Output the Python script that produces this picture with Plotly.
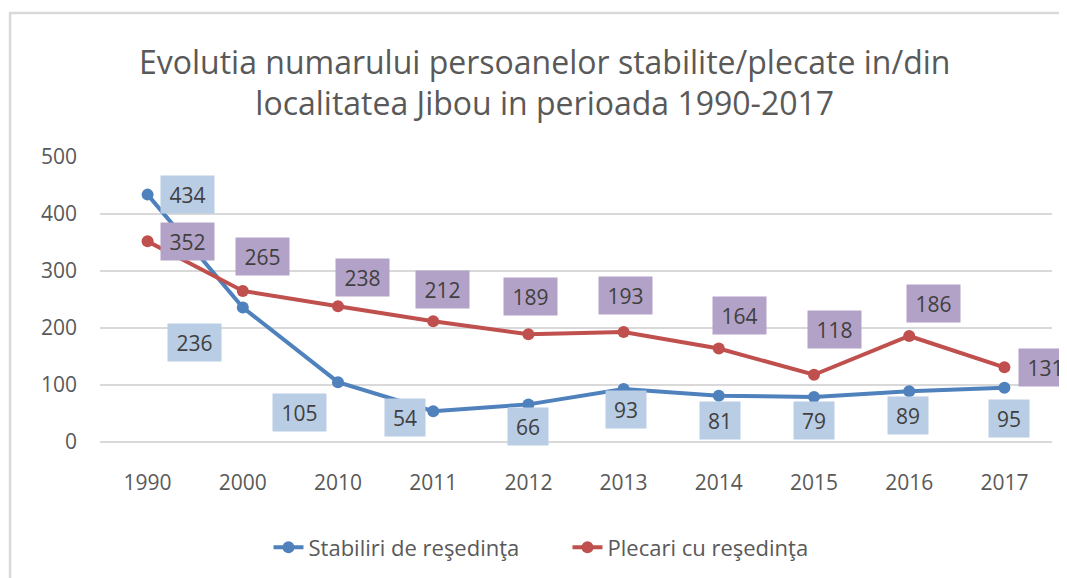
import plotly.graph_objects as go

years = ["1990", "2000", "2010", "2011", "2012", "2013", "2014", "2015", "2016", "2017"]
stabiliri = [434, 236, 105, 54, 66, 93, 81, 79, 89, 95]
plecari = [352, 265, 238, 212, 189, 193, 164, 118, 186, 131]

# label offsets in pixels (x, y up)
stab_off = [(40, 0), (-48, -35), (-39, -30), (-28, -6), (0, -22), (2, -21), (1, -25), (0, -24), (-1, -24), (5, -31)]
plec_off = [(40, 0), (20, 34), (24, 29), (9, 32), (2, 38), (2, 36), (21, 33), (20, 45), (24, 32), (41, 0)]

BLUE = "#4f81bd"
RED = "#c0504d"
FONT = "Open Sans"

fig = go.Figure()
fig.add_trace(go.Scatter(x=years, y=stabiliri, mode="lines+markers", name="Stabiliri de reşedinţa",
                         line=dict(color=BLUE, width=4), marker=dict(size=12, color=BLUE)))
fig.add_trace(go.Scatter(x=years, y=plecari, mode="lines+markers", name="Plecari cu reşedinţa",
                         line=dict(color=RED, width=4), marker=dict(size=12, color=RED)))


def add_labels(vals, offs, color):
    for i, v in enumerate(vals):
        dx, dy = offs[i]
        txt = str(v)
        fig.add_annotation(x=i, y=v, xref="x", yref="y", text=txt, showarrow=False,
                           xshift=dx, yshift=dy, bgcolor=color,
                           font=dict(size=21, color="#404040", family=FONT),
                           borderpad=0, width=53 if len(txt) == 3 else 40, height=37)


add_labels(stabiliri, stab_off, "#b9cde5")
add_labels(plecari, plec_off, "#b3a2c7")

fig.add_shape(type="rect", xref="paper", yref="paper", x0=-0.0945, x1=1.1, y0=-0.6, y1=1.505,
              line=dict(color="#d9d9d9", width=2.5), fillcolor="rgba(0,0,0,0)", layer="below")

fig.update_layout(
    width=1067, height=578,
    margin=dict(l=92, r=23, t=149, b=144),
    paper_bgcolor="white", plot_bgcolor="white",
    title=dict(text="Evolutia numarului persoanelor stabilite/plecate in/din<br>localitatea Jibou in perioada 1990-2017",
               x=0.503, xanchor="center", y=0.886, yanchor="middle",
               font=dict(size=32, color="#595959", family=FONT)),
    xaxis=dict(type="category", range=[-0.5, 9.5], showgrid=False, showline=False, zeroline=False,
               ticks="", ticklabelstandoff=26,
               tickfont=dict(size=21, color="#595959", family=FONT)),
    yaxis=dict(range=[0, 500], dtick=100, gridcolor="#d9d9d9", gridwidth=1.5, zeroline=True,
               zerolinecolor="#d9d9d9", zerolinewidth=1.5, showline=False, ticks="",
               ticklabelstandoff=22,
               tickfont=dict(size=21, color="#595959", family=FONT)),
    legend=dict(orientation="h", x=0.177, xanchor="left", y=-0.37, yanchor="middle",
                font=dict(size=22, color="#595959", family=FONT),
                entrywidth=254, entrywidthmode="pixels"),
    showlegend=True,
)

fig.write_html("out.html")
